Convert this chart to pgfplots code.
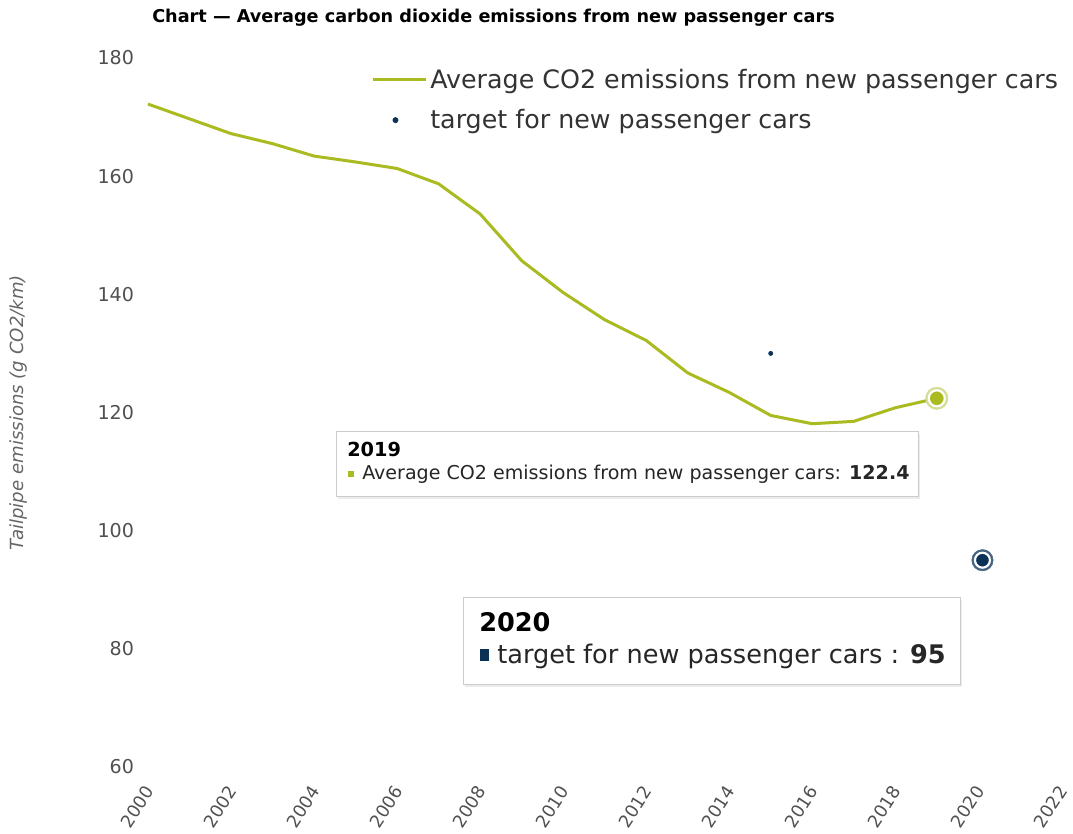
\documentclass[border=0pt]{standalone}
\usepackage{fontspec}
\setmainfont{DejaVu Sans}
\usepackage{pgfplots}
\pgfplotsset{compat=1.18}
\usetikzlibrary{shadows}
\definecolor{cgreen}{RGB}{170,187,33}
\definecolor{cgreenlt}{RGB}{214,222,150}
\definecolor{cnavy}{RGB}{12,50,86}
\definecolor{cnavylt}{RGB}{70,100,128}
\definecolor{ctick}{RGB}{80,80,80}
\definecolor{clabel}{RGB}{102,102,102}
\begin{document}
\begin{tikzpicture}
\useasboundingbox (-111pt,-50.25pt) rectangle (693.75pt,575.25pt);
\begin{axis}[
  at={(0pt,0pt)}, anchor=south west,
  scale only axis, width=685pt, height=531.75pt,
  xmin=2000, xmax=2022, ymin=60, ymax=180,
  clip=false,
  axis line style={draw=none},
  major tick length=0pt,
  xtick={2000,2002,...,2022}, ytick={60,80,...,180},
  /pgf/number format/assume math mode=true,
  /pgf/number format/set thousands separator={},
  ticklabel style={font=\fontsize{14.3}{17}\selectfont, text=ctick},
  xticklabel style={font=\fontsize{13.2}{16}\selectfont, xshift=3pt, yshift=-12.75pt, rotate=57, anchor=east},
  yticklabel style={xshift=-7pt},
  ylabel={Tailpipe emissions (g CO2/km)},
  ylabel style={at={(axis description cs:-0.1423,0.5)}, anchor=center,
    font=\itshape\fontsize{13.6}{16}\selectfont, text=clabel},
  legend style={at={(axis description cs:0.2442,0.9887)}, anchor=north west,
    draw=none, fill=none, font=\fontsize{19}{23}\selectfont, text=black!80,
    row sep=10.5pt, inner sep=0pt, nodes={inner sep=2pt}},
  legend cell align=left,
]
\addplot[cgreen, line width=2.25pt, line join=round,
  legend image code/.code={\path (0pt,0pt) -- (40pt,0pt); \draw[cgreen, line width=2.25pt] (0pt,0pt) -- (34.5pt,0pt);}]
  coordinates {
  (2000,172.2) (2001,169.7) (2002,167.2) (2003,165.5) (2004,163.4)
  (2005,162.4) (2006,161.3) (2007,158.7) (2008,153.6) (2009,145.7)
  (2010,140.3) (2011,135.7) (2012,132.2) (2013,126.7) (2014,123.4)
  (2015,119.5) (2016,118.1) (2017,118.5) (2018,120.8) (2019,122.4)};
\addlegendentry{Average CO2 emissions from new passenger cars}
\addplot[only marks, mark=*, mark size=1.6pt, cnavy,
  legend image code/.code={\fill[cnavy] (17pt,0pt) circle (2pt);}]
  coordinates {(2015,130) (2020.1,95)};
\addlegendentry{target for new passenger cars}
% hover halos
\addplot[forget plot, only marks, mark=*, mark size=8.4pt, color=cgreenlt, mark options={fill=cgreenlt, draw=cgreenlt}] coordinates {(2019,122.4)};
\addplot[forget plot, only marks, mark=*, mark size=6pt, color=cgreen, mark options={fill=cgreen, draw=white, line width=1.6pt}] coordinates {(2019,122.4)};
\addplot[forget plot, only marks, mark=*, mark size=8pt, color=cnavylt, mark options={fill=cnavylt, draw=cnavylt}] coordinates {(2020.1,95)};
\addplot[forget plot, only marks, mark=*, mark size=5.6pt, color=cnavy, mark options={fill=cnavy, draw=white, line width=1.6pt}] coordinates {(2020.1,95)};
\end{axis}
\begin{scope}[x=0.75pt, y=-0.75pt, shift={(-111pt,575.25pt)}]
  \node[anchor=west, inner sep=0pt, font=\bfseries\fontsize{13.25}{15}\selectfont] at (152,18)
    {Chart — Average carbon dioxide emissions from new passenger cars};
  % tooltip 2019
  \draw[fill=white, draw=black!20, line width=0.75pt,
    drop shadow={shadow xshift=1.2pt, shadow yshift=-1.2pt, opacity=0.15}] (336,432) rectangle (918,497);
  \node[anchor=base west, inner sep=0pt, font=\bfseries\fontsize{14.5}{17}\selectfont] at (347,457) {2019};
  \fill[cgreen] (348,471) rectangle (354,477);
  \node[anchor=base west, inner sep=0pt, font=\fontsize{14.3}{17}\selectfont, text=black!85] at (362,480)
    {Average CO2 emissions from new passenger cars: \textbf{122.4}};
  % tooltip 2020
  \draw[fill=white, draw=black!20, line width=0.75pt,
    drop shadow={shadow xshift=1.2pt, shadow yshift=-1.2pt, opacity=0.15}] (463,598) rectangle (960,685);
  \node[anchor=base west, inner sep=0pt, font=\bfseries\fontsize{19.2}{22}\selectfont] at (479,632) {2020};
  \fill[cnavy] (480,649) rectangle (489,661);
  \node[anchor=base west, inner sep=0pt, font=\fontsize{19.2}{22}\selectfont, text=black!85] at (497,664)
    {target for new passenger cars : \textbf{95}};
\end{scope}
\end{tikzpicture}
\end{document}
